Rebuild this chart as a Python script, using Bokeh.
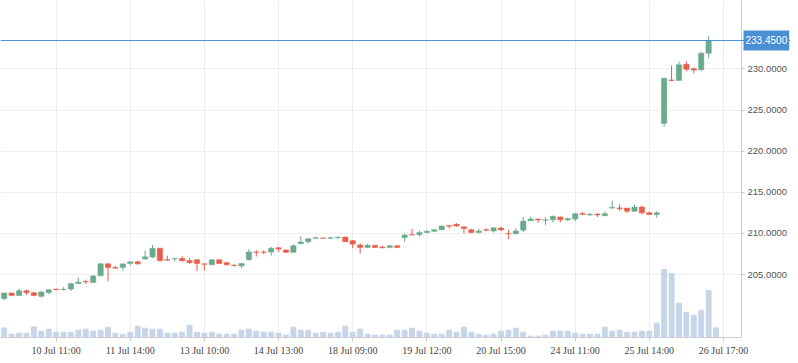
from bokeh.plotting import figure
from bokeh.models import (ColumnDataSource, FixedTicker, PrintfTickFormatter, Range1d, Span, Label,
                          BoxAnnotation)
from bokeh.embed import file_html
from bokeh.resources import INLINE

opens = [202.07, 202.76, 202.47, 203.04, 202.8, 202.35, 202.8, 203.22, 203.15, 203.25,
         203.9, 204.15, 204.05, 204.85, 206.3, 205.87, 205.87, 206.35, 206.55, 206.9,
         207.12, 208.2, 206.8, 206.9, 206.95, 206.7, 206.8, 206.3, 206.2, 206.8,
         206.45, 206.15, 206.05, 206.8, 207.75, 207.75, 207.73, 208.25, 208.0, 207.7,
         208.75, 209.0, 209.4, 209.45, 209.42, 209.5, 209.55, 209.1, 208.6, 208.3,
         208.55, 208.35, 208.3, 208.5, 209.5, 209.85, 209.85, 210.1, 210.25, 210.45,
         210.95, 211.1, 210.8, 210.45, 210.1, 210.45, 210.3, 210.65, 210.0, 209.95,
         210.4, 211.55, 211.75, 211.6, 211.65, 212.0, 211.65, 211.75, 212.4, 212.25,
         212.35, 212.15, 213.08, 213.1, 213.08, 212.7, 213.2, 212.5, 212.3, 223.37,
         228.65, 228.6, 230.55, 230.0, 229.9, 231.9, 233.45]
highs = [202.78, 202.8, 203.28, 203.15, 202.9, 203.0, 203.2, 203.3, 203.45, 204.0,
         204.6, 204.4, 204.95, 206.42, 206.4, 206.05, 206.3, 206.55, 206.7, 207.9,
         208.6, 208.25, 207.3, 207.05, 207.25, 207.0, 206.85, 206.3, 206.85, 206.82,
         206.55, 206.25, 206.4, 208.1, 207.95, 207.95, 208.37, 208.35, 208.05, 208.7,
         209.7, 209.4, 209.6, 209.48, 209.6, 209.58, 209.6, 209.2, 208.8, 208.75,
         208.57, 208.5, 208.6, 208.6, 209.95, 210.55, 210.35, 210.4, 210.55, 210.95,
         210.97, 211.25, 210.85, 210.55, 210.55, 210.65, 210.7, 210.8, 210.45, 210.65,
         212.0, 212.05, 211.8, 211.95, 212.15, 212.05, 211.95, 212.5, 212.6, 212.45,
         212.4, 212.65, 214.0, 213.55, 213.1, 213.5, 213.4, 212.65, 212.7, 228.95,
         230.4, 230.9, 230.9, 230.15, 232.1, 234.0, 233.45]
lows = [201.86, 202.35, 202.4, 202.5, 202.35, 202.2, 202.6, 203.1, 203.1, 203.0,
        203.85, 203.85, 204.0, 204.8, 204.15, 205.75, 205.5, 206.1, 206.2, 206.8,
        207.0, 206.6, 206.73, 206.6, 206.6, 206.3, 205.4, 205.5, 206.15, 206.25,
        206.1, 205.95, 205.8, 206.7, 207.2, 207.5, 207.3, 207.75, 207.6, 207.65,
        208.7, 208.77, 209.35, 209.4, 209.3, 209.3, 208.98, 208.2, 207.55, 208.2,
        208.2, 208.2, 208.2, 208.2, 209.0, 209.78, 209.6, 210.0, 210.15, 210.38,
        210.6, 210.82, 210.0, 210.05, 210.0, 210.25, 210.1, 210.3, 209.3, 209.9,
        210.15, 211.5, 211.3, 211.0, 211.35, 211.35, 211.5, 211.5, 212.25, 212.1,
        212.0, 212.1, 213.0, 212.75, 212.5, 212.6, 212.3, 212.28, 211.9, 222.96,
        228.5, 228.6, 229.7, 229.45, 229.7, 231.3, 233.45]
closes = [202.76, 202.47, 203.04, 202.8, 202.47, 202.88, 203.15, 203.16, 203.22, 203.9,
          204.1, 204.1, 204.82, 206.3, 205.87, 205.78, 206.3, 206.55, 206.3, 207.15,
          208.2, 206.67, 206.75, 206.95, 206.67, 206.45, 206.35, 206.25, 206.8, 206.35,
          206.2, 206.1, 206.35, 207.75, 207.7, 207.7, 208.2, 208.1, 207.7, 208.5,
          208.97, 209.35, 209.47, 209.42, 209.48, 209.55, 209.0, 208.7, 208.3, 208.55,
          208.3, 208.25, 208.5, 208.3, 209.8, 209.8, 210.1, 210.25, 210.45, 210.9,
          210.88, 210.9, 210.6, 210.1, 210.3, 210.4, 210.68, 210.42, 209.95, 210.3,
          211.5, 211.75, 211.65, 211.65, 212.1, 211.65, 211.8, 212.4, 212.3, 212.32,
          212.25, 212.4, 213.15, 213.0, 212.7, 213.2, 212.5, 212.3, 212.5, 228.85,
          228.6, 230.5, 229.95, 229.85, 231.9, 233.45, 233.45]
volumes = [2900, 1000, 1300, 1300, 3200, 1900, 2500, 1600, 1600, 1600,
           2200, 2500, 1900, 2200, 3100, 1300, 1000, 1600, 3400, 2800,
           2500, 2500, 1300, 1300, 1600, 3700, 1600, 1300, 1600, 1000,
           1000, 1000, 2200, 2500, 1900, 1600, 1600, 1300, 700, 3100,
           2200, 2200, 1300, 1600, 1300, 1600, 3400, 1600, 2500, 1000,
           700, 700, 700, 2200, 2200, 2800, 1900, 1300, 1000, 1000,
           2200, 1600, 3100, 1600, 1000, 700, 1000, 1900, 2200, 2800,
           1600, 400, 400, 700, 1900, 1900, 1900, 1300, 1000, 1000,
           1000, 3100, 1900, 2200, 1600, 1600, 1900, 1900, 4300, 20500,
           19300, 10300, 7600, 6700, 8200, 14200, 2900]
last_price = 233.45
tick_index = [7, 17, 27, 37, 47, 57, 67, 77, 87, 97]
tick_labels = ["10 Jul 11:00", "11 Jul 14:00", "13 Jul 10:00", "14 Jul 13:00", "18 Jul 09:00",
               "19 Jul 12:00", "20 Jul 15:00", "24 Jul 11:00", "25 Jul 14:00", "26 Jul 17:00"]
price_ticks = [205, 210, 215, 220, 225, 230]

GREEN = "#6baa8c"
RED = "#e85d4b"
BLUE = "#4a8fd6"
VOLC = "#c6d6e8"

W, FRAME_H = 790, 337
X0 = -0.5
PX_PER_BAR = 7.415
AX_X = X0 + 741 / PX_PER_BAR          # where the price axis sits
X1 = X0 + W / PX_PER_BAR

idx = list(range(len(opens)))
colors = [GREEN if c >= o else RED for o, c in zip(opens, closes)]
src = ColumnDataSource(dict(x=idx, o=opens, h=highs, l=lows, c=closes, v=volumes,
                            top=[max(o, c) for o, c in zip(opens, closes)],
                            bot=[min(o, c) for o, c in zip(opens, closes)],
                            col=colors))

p = figure(frame_width=W, frame_height=FRAME_H, output_backend="svg", toolbar_location=None,
           x_range=Range1d(X0, X1), y_range=Range1d(197.35, 238.31),
           y_axis_location="right", min_border_left=0, min_border_top=0,
           min_border_right=0, min_border_bottom=17)
p.outline_line_color = None
p.background_fill_color = "white"
p.border_fill_color = "white"

p.extra_y_ranges = {"vol": Range1d(0, max(volumes) * FRAME_H / 68.0)}

# white strip to hide grid lines behind the price scale
p.add_layout(BoxAnnotation(left=AX_X, fill_color="white", fill_alpha=1, line_color=None, level="underlay"))

p.vbar(x="x", width=0.66, top="v", bottom=0, source=src, color=VOLC, y_range_name="vol")
p.segment(x0="x", x1="x", y0="l", y1="h", source=src, color="col", line_width=1)
p.vbar(x="x", width=0.72, top="top", bottom="bot", source=src, fill_color="col", line_color="col", line_width=0.5)

p.add_layout(Span(location=last_price, dimension="width", line_color=BLUE, line_width=1))
p.add_layout(Label(x=AX_X, y=last_price, x_offset=2, text="%.4f" % last_price,
                   text_color="white", text_font="Liberation Sans", text_font_size="10px",
                   text_align="left", text_baseline="middle",
                   background_fill_color=BLUE,
                   padding=dict(left=2, right=2, top=6, bottom=6)))

xa = p.xaxis[0]
xa.ticker = FixedTicker(ticks=tick_index)
xa.bounds = (X0, AX_X)
xa.major_label_overrides = {i: s for i, s in zip(tick_index, tick_labels)}
xa.major_label_text_font = "Liberation Serif"
xa.major_label_text_font_size = "10px"
xa.major_label_text_color = "#444444"
xa.axis_line_color = "#cccccc"
xa.major_tick_line_color = "#cccccc"
xa.major_tick_out = 4
xa.major_tick_in = 0
xa.minor_tick_line_color = None
xa.major_label_standoff = 3

ya = p.yaxis[0]
ya.fixed_location = AX_X
ya.ticker = FixedTicker(ticks=price_ticks)
ya.formatter = PrintfTickFormatter(format="%.4f")
ya.major_label_text_font = "Liberation Sans"
ya.major_label_text_font_size = "9.5px"
ya.major_label_text_color = "#555555"
ya.axis_line_color = "#cccccc"
ya.major_tick_line_color = "#cccccc"
ya.major_tick_out = 3
ya.major_tick_in = 0
ya.minor_tick_line_color = None
ya.major_label_standoff = 3

p.xgrid.ticker = FixedTicker(ticks=tick_index)
p.ygrid.ticker = FixedTicker(ticks=price_ticks)
p.xgrid.grid_line_color = "#eeeeee"
p.ygrid.grid_line_color = "#eeeeee"

open("out.html", "w").write(file_html(p, INLINE))
